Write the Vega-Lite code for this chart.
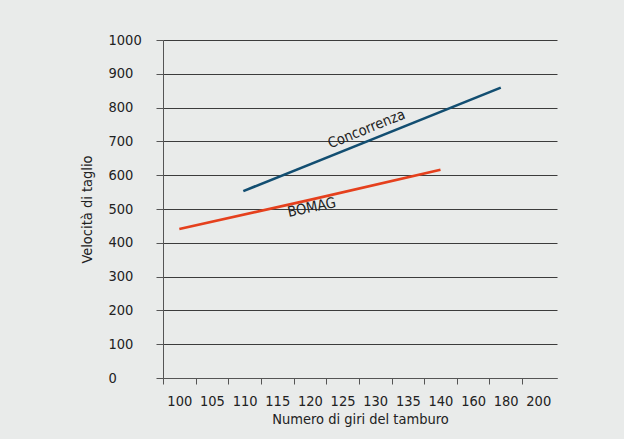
{
  "$schema": "https://vega.github.io/schema/vega-lite/v6.json",
  "width": 394,
  "height": 338,
  "autosize": {"type": "none"},
  "padding": {"left": 163, "top": 40, "right": 67, "bottom": 61},
  "background": "#e9ebea",
  "config": {
    "view": {"stroke": null},
    "font": "DejaVu Sans Condensed, sans-serif",
    "axis": {
      "labelFont": "DejaVu Sans Condensed, sans-serif",
      "titleFont": "DejaVu Sans Condensed, sans-serif",
      "labelFontSize": 14.5,
      "titleFontSize": 14.5,
      "titleFontWeight": "normal",
      "labelColor": "#222222",
      "titleColor": "#222222",
      "domainColor": "#555555",
      "tickColor": "#555555",
      "gridColor": "#3c3c3c",
      "gridWidth": 1
    }
  },
  "datasets": {
    "lines": [
      {"series": "BOMAG", "rpm": 100, "velocita": 441},
      {"series": "BOMAG", "rpm": 120, "velocita": 527},
      {"series": "BOMAG", "rpm": 140, "velocita": 616},
      {"series": "Concorrenza", "rpm": 109.8, "velocita": 553},
      {"series": "Concorrenza", "rpm": 177, "velocita": 859}
    ],
    "labels": [
      {"series": "Concorrenza", "rpm": 128.7, "velocita": 735},
      {"series": "BOMAG", "rpm": 120.3, "velocita": 503}
    ]
  },
  "encoding": {
    "x": {
      "field": "rpm",
      "type": "quantitative",
      "scale": {"domain": [97.5, 140, 211.5], "range": [0, 277.5, 394], "nice": false, "zero": false},
      "axis": {
        "title": "Numero di giri del tamburo",
        "values": [97.5, 102.5, 107.5, 112.5, 117.5, 122.5, 127.5, 132.5, 137.5, 150, 170, 190],
        "labelExpr": "datum.value < 140 ? datum.value + 2.5 : datum.value + 10",
        "labelOffset": 16.3,
        "labelFlush": false,
        "labelOverlap": false,
        "labelPadding": 10,
        "tickSize": 6,
        "grid": false,
        "titlePadding": 5
      }
    },
    "y": {
      "field": "velocita",
      "type": "quantitative",
      "scale": {"domain": [0, 1000], "nice": false, "zero": true},
      "axis": {
        "title": "Velocità di taglio",
        "values": [0, 100, 200, 300, 400, 500, 600, 700, 800, 900, 1000],
        "format": "d",
        "labelAlign": "left",
        "labelPadding": 48,
        "tickSize": 7,
        "grid": true,
        "titlePadding": 14
      }
    }
  },
  "layer": [
    {
      "data": {"name": "lines"},
      "mark": {"type": "line", "strokeWidth": 2.6},
      "encoding": {
        "color": {
          "field": "series",
          "type": "nominal",
          "scale": {"domain": ["Concorrenza", "BOMAG"], "range": ["#124e71", "#e5401d"]},
          "legend": null
        }
      }
    },
    {
      "data": {"name": "labels"},
      "transform": [{"filter": "datum.series == 'Concorrenza'"}],
      "mark": {"type": "text", "angle": -22, "fontSize": 14.5, "color": "#222222", "baseline": "middle", "align": "center"},
      "encoding": {"text": {"field": "series"}}
    },
    {
      "data": {"name": "labels"},
      "transform": [{"filter": "datum.series == 'BOMAG'"}],
      "mark": {"type": "text", "angle": -12, "fontSize": 14.5, "color": "#222222", "baseline": "middle", "align": "center"},
      "encoding": {"text": {"field": "series"}}
    }
  ]
}
